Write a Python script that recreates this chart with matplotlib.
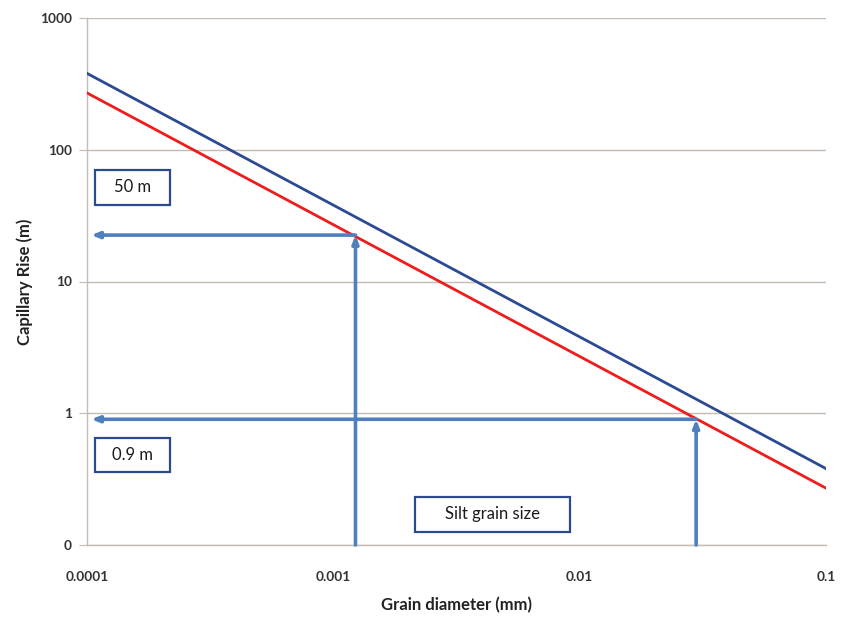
import matplotlib
matplotlib.use("Agg")
import matplotlib.pyplot as plt
from matplotlib.patches import Rectangle

# Capillary rise versus grain diameter (log-log)
grain_mm = [0.0001, 0.1]
rise_upper = [380, 0.38]
rise_lower = [270, 0.27]

# Silt grain size bounds and the matching capillary rise on the lower line
silt_fine_mm = 0.00123
silt_fine_rise = 22.5
silt_coarse_mm = 0.0297
silt_coarse_rise = 0.9

y_ticks = [0.1, 1, 10, 100, 1000]
y_tick_labels = ["0", "1", "10", "100", "1000"]
x_ticks = [0.0001, 0.001, 0.01, 0.1]
x_tick_labels = ["0.0001", "0.001", "0.01", "0.1"]

plt.rcParams["font.family"] = ["Lato", "DejaVu Sans"]

W, H = 841, 626
fig = plt.figure(figsize=(W / 100, H / 100), dpi=100)
ax = fig.add_axes([87 / W, 1 - 545 / H, (826 - 87) / W, (545 - 18) / H])

ax.set_xscale("log")
ax.set_yscale("log")
ax.set_xlim(0.0001, 0.1)
ax.set_ylim(0.1, 1000)

grid_col = "#c4bcb2"
ax.yaxis.grid(True, which="major", color=grid_col, linewidth=1.0)
ax.xaxis.grid(False)
ax.minorticks_off()
for s in ["top", "right"]:
    ax.spines[s].set_visible(False)
for s in ["left", "bottom"]:
    ax.spines[s].set_color(grid_col)
    ax.spines[s].set_linewidth(1.0)

ax.set_yticks(y_ticks)
ax.set_yticklabels(y_tick_labels)
ax.set_xticks(x_ticks)
ax.set_xticklabels(x_tick_labels)
ax.tick_params(axis="y", length=6, color=grid_col, pad=5, labelsize=9.8,
               labelcolor="#333333")
ax.tick_params(axis="x", length=0, pad=19, labelsize=9.8, labelcolor="#333333")
for lab in ax.get_xticklabels() + ax.get_yticklabels():
    lab.set_fontweight("bold")

ax.plot(grain_mm, rise_upper, color="#2b4a94", linewidth=2.0, zorder=3)
ax.plot(grain_mm, rise_lower, color="#ee1c1c", linewidth=2.0, zorder=3)

arrow_col = "#4f7fbf"
arrow_kw = dict(arrowstyle="-|>,head_length=0.45,head_width=0.18",
                color=arrow_col, linewidth=2.6, shrinkA=0, shrinkB=0)

for gx, ry in [(silt_fine_mm, silt_fine_rise), (silt_coarse_mm, silt_coarse_rise)]:
    # vertical arrow from the axis up to the curve
    ax.annotate("", xy=(gx, ry), xytext=(gx, 0.1), arrowprops=arrow_kw, zorder=4)
    # horizontal arrow from the curve across to the rise axis
    ax.annotate("", xy=(0.000104, ry), xytext=(gx, ry), arrowprops=arrow_kw, zorder=4)

box_col = "#2c4a8c"


def label_box(x0, y0, x1, y1, text):
    fx0 = (x0 - 87) / (826 - 87)
    fx1 = (x1 - 87) / (826 - 87)
    fy0 = (545 - y1) / (545 - 18)
    fy1 = (545 - y0) / (545 - 18)
    ax.add_patch(Rectangle((fx0, fy0), fx1 - fx0, fy1 - fy0, transform=ax.transAxes,
                           facecolor="white", edgecolor=box_col, linewidth=1.6,
                           zorder=5))
    ax.text((fx0 + fx1) / 2, (fy0 + fy1) / 2, text, transform=ax.transAxes,
            ha="center", va="center", fontsize=12, color="#1a1a1a", zorder=6)


label_box(95, 170, 170, 205, "50 m")
label_box(95, 438, 170, 472, "0.9 m")
label_box(415, 497, 570, 532, "Silt grain size")

ax.set_ylabel("Capillary Rise (m)", fontsize=12, fontweight="bold", color="#222222",
              labelpad=5)
ax.set_xlabel("Grain diameter (mm)", fontsize=12, fontweight="bold", color="#222222",
              labelpad=10)

fig.savefig("out.png", dpi=100, facecolor="white")
